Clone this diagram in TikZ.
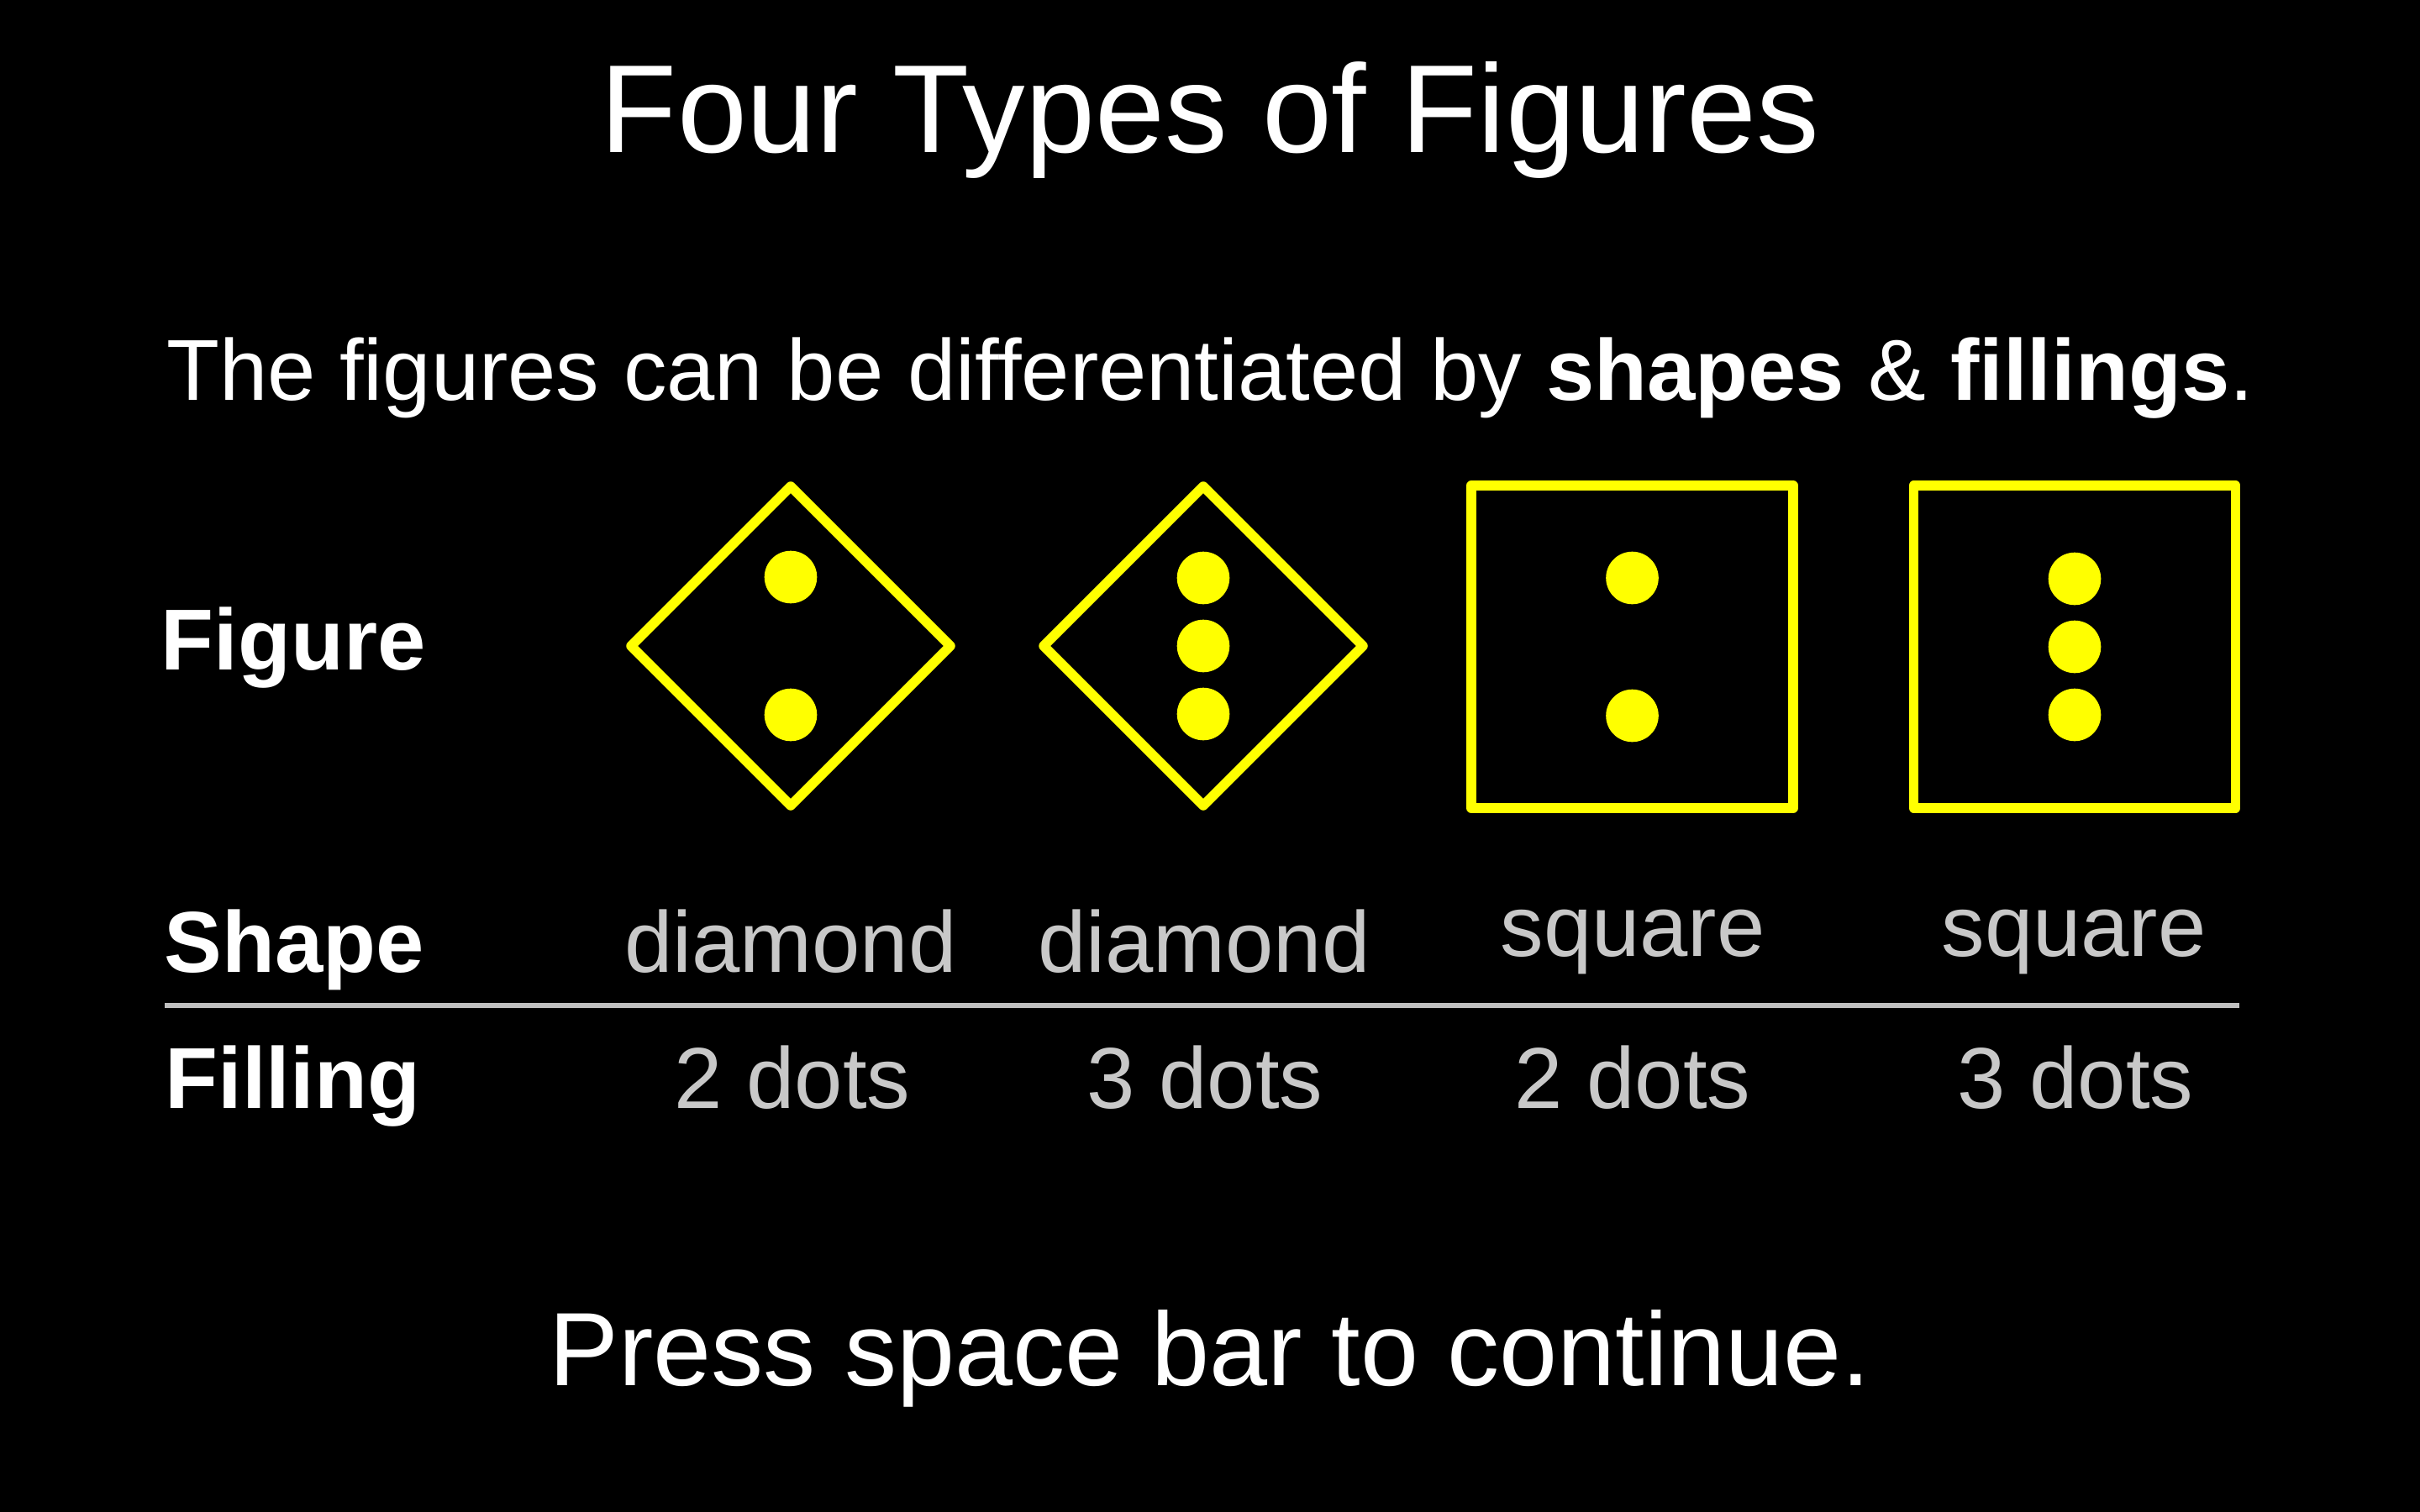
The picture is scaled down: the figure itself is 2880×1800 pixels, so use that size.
\documentclass[tikz,border=0pt]{standalone}
\usepackage{fontspec}
\setmainfont{Liberation Sans}
\usetikzlibrary{calc}
\definecolor{txtgray}{RGB}{200,200,200}
\definecolor{linegray}{RGB}{192,192,192}
\definecolor{figyellow}{RGB}{255,255,0}
\tikzset{
  titletext/.style={font=\fontsize{42.4pt}{50pt}\selectfont, text=white, anchor=base, inner sep=0},
  subtext/.style={font=\fontsize{29.3pt}{35pt}\selectfont, text=white, anchor=base, inner sep=0},
  presstext/.style={font=\fontsize{35.3pt}{42pt}\selectfont, text=white, anchor=base, inner sep=0},
  rowlabel/.style={font=\fontsize{29.3pt}{35pt}\selectfont\bfseries, text=white, anchor=base west, inner sep=0},
  celltext/.style={font=\fontsize{29.3pt}{35pt}\selectfont, text=txtgray, anchor=base, inner sep=0},
  figline/.style={draw=figyellow, line width=3.27pt, line join=round},
  dotfill/.style={fill=figyellow},
}
\begin{document}
\begin{tikzpicture}[x=0.01cm,y=-0.01cm]
\useasboundingbox (0,0) rectangle (2880,1800);
\fill[black] (0,0) rectangle (2880,1800);

\node[titletext] (title) at (1440,182) {Four Types of Figures};
\node[subtext] (sub) at (1440,477) {The figures can be differentiated by \textbf{shapes} \& \textbf{fillings}.};

\node[rowlabel] (lfig) at (191,797) {Figure};
\node[rowlabel] (lshape) at (195,1157) {Shape};
\node[rowlabel] (lfill) at (196,1319) {Filling};

% figure centers
\coordinate (c1) at (941,769);
\coordinate (c2) at (1432,769);
\coordinate (c3) at (1942.5,770);
\coordinate (c4) at (2469,770);

% diamonds
\draw[figline] ($(c1)+(0,-190)$) -- ($(c1)+(190,0)$) -- ($(c1)+(0,190)$) -- ($(c1)+(-190,0)$) -- cycle;
\draw[figline] ($(c2)+(0,-190)$) -- ($(c2)+(190,0)$) -- ($(c2)+(0,190)$) -- ($(c2)+(-190,0)$) -- cycle;
% squares
\draw[figline] ($(c3)+(-191.5,-192)$) rectangle ($(c3)+(191.5,192)$);
\draw[figline] ($(c4)+(-191.5,-192)$) rectangle ($(c4)+(191.5,192)$);

% dots
\fill[dotfill] ($(c1)+(0,-82)$) circle[radius=31.3];
\fill[dotfill] ($(c1)+(0,82)$) circle[radius=31.3];
\fill[dotfill] ($(c2)+(0,-81)$) circle[radius=31.3];
\fill[dotfill] ($(c2)+(0,0)$) circle[radius=31.3];
\fill[dotfill] ($(c2)+(0,81)$) circle[radius=31.3];
\fill[dotfill] ($(c3)+(0,-82)$) circle[radius=31.3];
\fill[dotfill] ($(c3)+(0,82)$) circle[radius=31.3];
\fill[dotfill] ($(c4)+(0,-81)$) circle[radius=31.3];
\fill[dotfill] ($(c4)+(0,0)$) circle[radius=31.3];
\fill[dotfill] ($(c4)+(0,81)$) circle[radius=31.3];

% shape row
\node[celltext] (s1) at (941,1157) {diamond};
\node[celltext] (s2) at (1433,1157) {diamond};
\node[celltext] (s3) at (1943,1138) {square};
\node[celltext] (s4) at (2468,1138) {square};

% separator
\coordinate (la) at (196,1197);
\coordinate (lb) at (2665,1197);
\draw[linegray, line width=1.7pt] (la) -- (lb);

% filling row
\node[celltext] (f1) at (943,1319) {2 dots};
\node[celltext] (f2) at (1434,1319) {3 dots};
\node[celltext] (f3) at (1943,1319) {2 dots};
\node[celltext] (f4) at (2470,1319) {3 dots};

\node[presstext] (press) at (1440,1649) {Press space bar to continue.};
\end{tikzpicture}
\end{document}
